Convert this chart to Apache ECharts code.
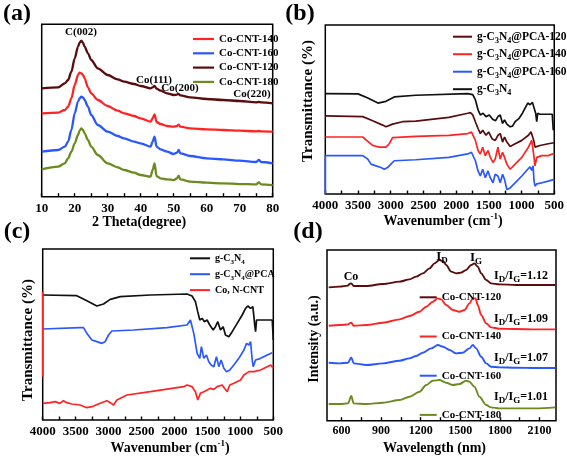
<!DOCTYPE html>
<html><head><meta charset="utf-8">
<script src="https://cdn.jsdelivr.net/npm/echarts@6.0.0/dist/echarts.min.js"></script>
<style>html,body{margin:0;padding:0;background:#fff}#c{width:567px;height:459px}</style>
</head><body><div id="c"></div>
<script>
// ---------- Panel (a): XRD ----------
const xrdTheta = [10,15,17,18,19,20,21,21.5,22,22.5,23,24,25,27,30,33,35,38,40,43,43.6,44.2,44.8,46,48,50,51,51.5,52,55,60,65,70,75,75.8,76.5,80];
const xrd120 = [325,328,340,350,375,415,450,462,468,462,450,430,410,385,365,352,345,338,332,325,328,332,324,318,310,305,306,308,304,298,293,290,287,283,284,283,280];
const xrd140 = [250,252,260,270,295,335,365,372,370,365,355,328,310,290,272,258,250,242,235,225,235,247,224,218,212,210,212,216,210,205,202,200,198,196,197,196,195];
const xrd160 = [135,140,150,165,200,250,285,295,300,298,290,270,245,215,195,182,175,165,160,150,165,180,150,142,135,128,132,140,130,122,115,112,108,104,110,104,100];
const xrd180 = [82,90,100,115,135,160,185,198,205,200,190,170,150,125,100,88,80,72,65,60,80,100,62,55,52,50,55,63,52,45,42,40,38,37,43,37,35];
const xrdTicks = {min:10, max:80, step:10};
const xrdPeaks = ['C(002)','Co(111)','Co(200)','Co(220)'];

// ---------- Panel (b): FTIR ----------
const bBlackX = [4000,3500,3350,3195,3073,2946,2617,1822,1746,1706,1665,1630,1589,1543,1493,1442,1397,1361,1326,1290,1260,1224,1174,1138,1098,1037,986,946,905,870,834,804,784,768,753,718,591,530,515];
const bBlackY = [296,295,283,268,273,286,291,296,293,278,248,233,238,228,233,220,216,228,233,208,218,206,198,200,213,223,238,253,268,263,270,266,238,213,238,235,235,235,188];
const bBrownX = [4000,3428,3276,3124,3073,2972,2820,2617,2111,1822,1782,1746,1706,1665,1630,1594,1543,1503,1452,1402,1361,1326,1290,1260,1224,1174,1098,996,895,854,834,814,794,718,591,500];
const bBrownY = [230,228,216,203,198,206,213,215,226,238,240,233,213,193,178,188,173,183,163,158,173,178,153,168,153,140,148,158,173,183,178,158,138,143,148,151];
const bRedX = [4000,3428,3337,3276,3174,3073,3022,2972,2617,2111,1822,1766,1746,1706,1665,1630,1594,1554,1513,1478,1437,1402,1361,1326,1290,1260,1224,1174,1098,996,895,870,844,824,809,794,768,692,591,500];
const bRedY = [168,168,153,143,138,138,148,166,170,173,178,183,188,158,128,118,138,113,128,108,93,103,138,103,123,108,88,73,88,108,138,148,158,153,108,83,108,113,113,120];
const bBlueX = [4000,3428,3352,3301,3225,3149,3098,3048,2997,2946,2617,2111,1822,1766,1746,1706,1665,1630,1594,1554,1513,1478,1437,1402,1361,1326,1290,1260,1224,1174,1098,996,905,870,844,824,809,794,768,692,591,500];
const bBlueY = [113,113,103,88,83,78,73,78,88,98,101,108,118,123,126,98,68,53,73,48,68,48,33,58,53,33,58,43,13,18,33,53,73,80,70,83,38,23,30,33,38,43];
const bBlueEdgeX = [4000,4000];
const bBlueEdgeY = [0,113];

// ---------- Panel (c): FTIR ----------
const cBlackX = [4000,3483,3330,3178,3077,2975,2823,2367,1809,1733,1682,1647,1616,1581,1545,1505,1464,1413,1378,1342,1302,1261,1226,1175,1124,1048,972,921,886,845,810,779,769,754,693,516,500];
const cBlackY = [375,373,358,342,348,362,370,375,378,372,355,325,300,305,295,300,285,270,280,295,270,280,255,250,265,290,315,335,342,335,340,280,265,300,300,300,240];
const cBlueX = [4000,3432,3381,3330,3254,3178,3102,3052,3001,2950,2620,2113,1809,1758,1707,1656,1616,1591,1555,1515,1479,1444,1403,1363,1327,1292,1251,1210,1160,1099,1023,946,906,870,845,820,805,769,693,592,516];
const cBlueY = [273,277,277,260,240,235,230,235,255,267,270,277,285,300,260,200,185,220,185,195,175,165,160,190,160,180,155,145,150,165,185,210,230,225,235,180,160,180,185,195,202];
const cRedX = [4000,3888,3812,3736,3686,3635,3559,3432,3330,3254,3128,3026,2975,2925,2874,2722,2367,1860,1809,1733,1682,1647,1606,1555,1505,1454,1403,1353,1276,1241,1200,1160,1099,997,946,870,794,693,592,541,500];
const cRedY = [50,52,55,50,58,52,48,45,37,40,50,58,52,45,60,75,85,100,105,100,85,60,80,85,90,95,92,100,105,95,85,105,110,120,135,145,145,150,160,165,155];
const cRedEdgeX = [4000,4000];
const cRedEdgeY = [130,385];
const irTicks = {min:500, max:4000, step:500};

// ---------- Panel (d): Raman ----------
const dBrownX = [503,586,649,661,674,692,788,914,1040,1115,1166,1216,1267,1305,1342,1368,1393,1431,1469,1506,1544,1582,1607,1632,1658,1696,1733,1796,1922,2049,2220];
const dBrownY = [400,402,405,410,412,404,404,410,417,424,432,442,457,472,482,479,467,447,442,444,452,467,472,462,442,422,412,409,407,407,407];
const dRedX = [503,586,649,674,692,788,914,1040,1115,1191,1242,1292,1330,1355,1393,1443,1494,1532,1569,1595,1615,1632,1658,1696,1733,1796,1922,2074,2220];
const dRedY = [285,287,289,294,285,287,294,304,314,327,342,357,367,364,347,332,327,332,352,367,367,347,317,292,280,276,275,274,274];
const dBlueX = [503,586,649,674,692,788,914,1040,1115,1166,1216,1279,1330,1368,1418,1469,1519,1569,1595,1620,1658,1696,1733,1796,1922,2074,2220];
const dBlueY = [174,172,174,190,172,167,172,180,187,194,204,217,227,222,212,202,204,217,227,217,192,172,162,160,159,158,158];
const dGreenX = [503,586,649,674,692,788,914,1040,1115,1191,1242,1292,1342,1393,1443,1494,1544,1569,1607,1645,1696,1733,1796,1922,2074,2220];
const dGreenY = [50,50,52,74,52,50,54,62,72,87,107,120,122,114,107,110,120,117,102,72,47,40,37,37,37,40];
const ramanTickValues = [600,750,900,1050,1200,1350,1500,1650,1800,1950,2100];
const ramanLabelValues = [600,900,1200,1500,1800,2100];
const ramanRatios = ['1.12','1.09','1.07','1.01'];

// ---------- styling ----------
const FONT = '"Liberation Serif","Times New Roman",serif';
const COL = {red:'#ff2424', blue:'#2b57ff', brown:'#5a0c0c', green:'#6b8b1f', black:'#111111'};
function zip(xs, ys){ return xs.map((x,i)=>[x, ys[i]]); }
const plainNum = v => String(v);

const gridBase = {show:true, borderColor:'#000', borderWidth:1.5, backgroundColor:'transparent'};
const grids = [
  Object.assign({left:41.7, top:24.3, width:231, height:172.4}, gridBase),
  Object.assign({left:325.3, top:25, width:231, height:169}, gridBase),
  Object.assign({left:42.7, top:249, width:230.6, height:171}, gridBase),
  Object.assign({left:327, top:250, width:229, height:170.7}, gridBase)
];

function xAx(i, o){
  return Object.assign({
    gridIndex:i, type:'value', axisLine:{show:false}, splitLine:{show:false},
    axisTick:{show:true, inside:true, length:3.5, lineStyle:{color:'#000', width:1.4}},
    minorTick:{show:true, splitNumber:2, length:3.5, lineStyle:{color:'#000', width:1.4}},
    minorSplitLine:{show:false},
    axisLabel:{color:'#000', fontFamily:FONT, fontWeight:'bold', fontSize:13, margin:5, showMinLabel:true, showMaxLabel:true, formatter:plainNum}
  }, o);
}
function yAx(i, max){
  return {gridIndex:i, type:'value', min:0, max:max, axisLine:{show:false}, axisTick:{show:false}, axisLabel:{show:false}, splitLine:{show:false}};
}
function line(name, gi, xs, ys, color, w, smooth){
  return {name, type:'line', xAxisIndex:gi, yAxisIndex:gi, data:zip(xs,ys), symbol:'none', showSymbol:false,
    lineStyle:{color, width:w}, itemStyle:{color}, smooth:smooth||false, smoothMonotone:'x', animation:false, z:3};
}

const xAxes = [
  xAx(0, {min:xrdTicks.min, max:xrdTicks.max, interval:xrdTicks.step}),
  xAx(1, {min:irTicks.min, max:irTicks.max, interval:irTicks.step, inverse:true}),
  xAx(2, {min:irTicks.min, max:irTicks.max, interval:irTicks.step, inverse:true}),
  xAx(3, {min:490, max:2225, minorTick:{show:false},
    axisTick:{show:true, inside:true, length:3.5, lineStyle:{color:'#000', width:1.4}, customValues:ramanTickValues},
    axisLabel:{color:'#000', fontFamily:FONT, fontWeight:'bold', fontSize:12, margin:4, customValues:ramanLabelValues, formatter:plainNum}})
];
const yAxes = [yAx(0,517), yAx(1,498), yAx(2,513), yAx(3,512)];

const series = [
  line('Co-CNT-120', 0, xrdTheta, xrd120, COL.brown, 2.3, 0.3),
  line('Co-CNT-140', 0, xrdTheta, xrd140, COL.red, 2.3, 0.3),
  line('Co-CNT-160', 0, xrdTheta, xrd160, COL.blue, 2.3, 0.3),
  line('Co-CNT-180', 0, xrdTheta, xrd180, COL.green, 2.3, 0.3),

  line('g-C3N4', 1, bBlackX, bBlackY, COL.black, 1.7),
  line('g-C3N4@PCA-120', 1, bBrownX, bBrownY, COL.brown, 1.7),
  line('g-C3N4@PCA-140', 1, bRedX, bRedY, COL.red, 1.7),
  line('g-C3N4@PCA-160', 1, bBlueX, bBlueY, COL.blue, 1.7),
  line('_bedge', 1, bBlueEdgeX, bBlueEdgeY, COL.blue, 1.7),

  line('g-C3N4 ', 2, cBlackX, cBlackY, COL.black, 1.7),
  line('g-C3N4@PCA', 2, cBlueX, cBlueY, COL.blue, 1.7),
  line('Co, N-CNT', 2, cRedX, cRedY, COL.red, 1.7),
  line('_cedge', 2, cRedEdgeX, cRedEdgeY, COL.red, 1.7),

  line('Co-CNT-120 ', 3, dBrownX, dBrownY, COL.brown, 1.9, 0.3),
  line('Co-CNT-140 ', 3, dRedX, dRedY, COL.red, 1.9, 0.3),
  line('Co-CNT-160 ', 3, dBlueX, dBlueY, COL.blue, 1.9, 0.3),
  line('Co-CNT-180 ', 3, dGreenX, dGreenY, COL.green, 1.9, 0.3)
];

const subRich = (fs, lh) => ({s:{fontFamily:FONT, fontWeight:'bold', fontSize:fs, lineHeight:lh, verticalAlign:'bottom', color:'#000'}});
const chemFmt = n => n.trim().replace('C3N4', 'C{s|3}N{s|4}');
const legendIcon = 'rect';

const legends = [
  {data:['Co-CNT-140','Co-CNT-160','Co-CNT-120','Co-CNT-180'], orient:'vertical', left:188, top:28.5,
   icon:legendIcon, itemWidth:21, itemHeight:2.2, itemGap:3.3, selectedMode:false,
   textStyle:{fontFamily:FONT, fontWeight:'bold', fontSize:11, lineHeight:10, color:'#000'}},
  {data:['g-C3N4@PCA-120','g-C3N4@PCA-140','g-C3N4@PCA-160','g-C3N4'], orient:'vertical', left:448, top:23.7,
   icon:legendIcon, itemWidth:19, itemHeight:2, itemGap:1.5, selectedMode:false, formatter:chemFmt,
   textStyle:{fontFamily:FONT, fontWeight:'bold', fontSize:11.5, lineHeight:16, color:'#000', rich:subRich(8,8)}},
  {data:['g-C3N4 ','g-C3N4@PCA','Co, N-CNT'], orient:'vertical', left:185, top:246.3,
   icon:legendIcon, itemWidth:20, itemHeight:2, itemGap:1.9, selectedMode:false, formatter:chemFmt,
   textStyle:{fontFamily:FONT, fontWeight:'bold', fontSize:10, lineHeight:14, color:'#000', rich:subRich(7,7)}},
  {data:['Co-CNT-120 ','Co-CNT-140 ','Co-CNT-160 ','Co-CNT-180 '], orient:'vertical', left:414.7, top:285.3,
   icon:legendIcon, itemWidth:17, itemHeight:2, itemGap:25.2, selectedMode:false, formatter:n=>n.trim(),
   textStyle:{fontFamily:FONT, fontWeight:'bold', fontSize:11, lineHeight:14, color:'#000'}}
];

function txt(x, y, text, size, extra){
  const st = Object.assign({text, fill:'#000', font:'bold '+size+'px '+FONT, align:'center', verticalAlign:'middle'}, (extra&&extra.style)||{});
  const el = {type:'text', x, y, z:10, style:st};
  if (extra && extra.rotation) el.rotation = extra.rotation;
  return el;
}
const supRich = {p:{fontFamily:FONT, fontWeight:'bold', fontSize:9, lineHeight:9, verticalAlign:'top', fill:'#000', color:'#000'}};
const subTxtRich = {s:{fontFamily:FONT, fontWeight:'bold', fontSize:9, lineHeight:9, verticalAlign:'bottom', fill:'#000', color:'#000'}};
const ratioY = [275.7, 319.3, 357.7, 396.7];

const graphics = [
  txt(17, 14, '(a)', 24), txt(300, 14, '(b)', 24), txt(17, 232, '(c)', 24), txt(308, 232, '(d)', 24),
  txt(139, 222, '2 Theta(degree)', 14),
  txt(443, 221, 'Wavenumber (cm{p|-1})', 14, {style:{rich:supRich, lineHeight:18}}),
  txt(170, 448, 'Wavenumber (cm{p|-1})', 14, {style:{rich:supRich, lineHeight:18}}),
  txt(434.5, 448, 'Wavelength (nm)', 14),
  txt(308, 101, 'Transmittance (%)', 15, {rotation:Math.PI/2}),
  txt(28, 340, 'Transmittance (%)', 15, {rotation:Math.PI/2}),
  txt(314.7, 339, 'Intensity (a.u.)', 14, {rotation:Math.PI/2}),
  txt(81, 32, xrdPeaks[0], 11), txt(154, 80, xrdPeaks[1], 11), txt(180, 88, xrdPeaks[2], 11), txt(252, 94, xrdPeaks[3], 11),
  txt(351, 277, 'Co', 12),
  txt(442, 257, 'I{s|D}', 13, {style:{rich:subTxtRich, lineHeight:16}}),
  txt(476, 258, 'I{s|G}', 13, {style:{rich:subTxtRich, lineHeight:16}})
].concat(ramanRatios.map((r,i)=>txt(521, ratioY[i], 'I{s|D}/I{s|G}=' + r, 12, {style:{rich:subTxtRich, lineHeight:16}})));

const chart = echarts.init(document.getElementById('c'), null, {renderer:'canvas'});
chart.setOption({
  animation:false,
  backgroundColor:'#fff',
  grid:grids, xAxis:xAxes, yAxis:yAxes, series:series, legend:legends, graphic:graphics
});
</script></body></html>
